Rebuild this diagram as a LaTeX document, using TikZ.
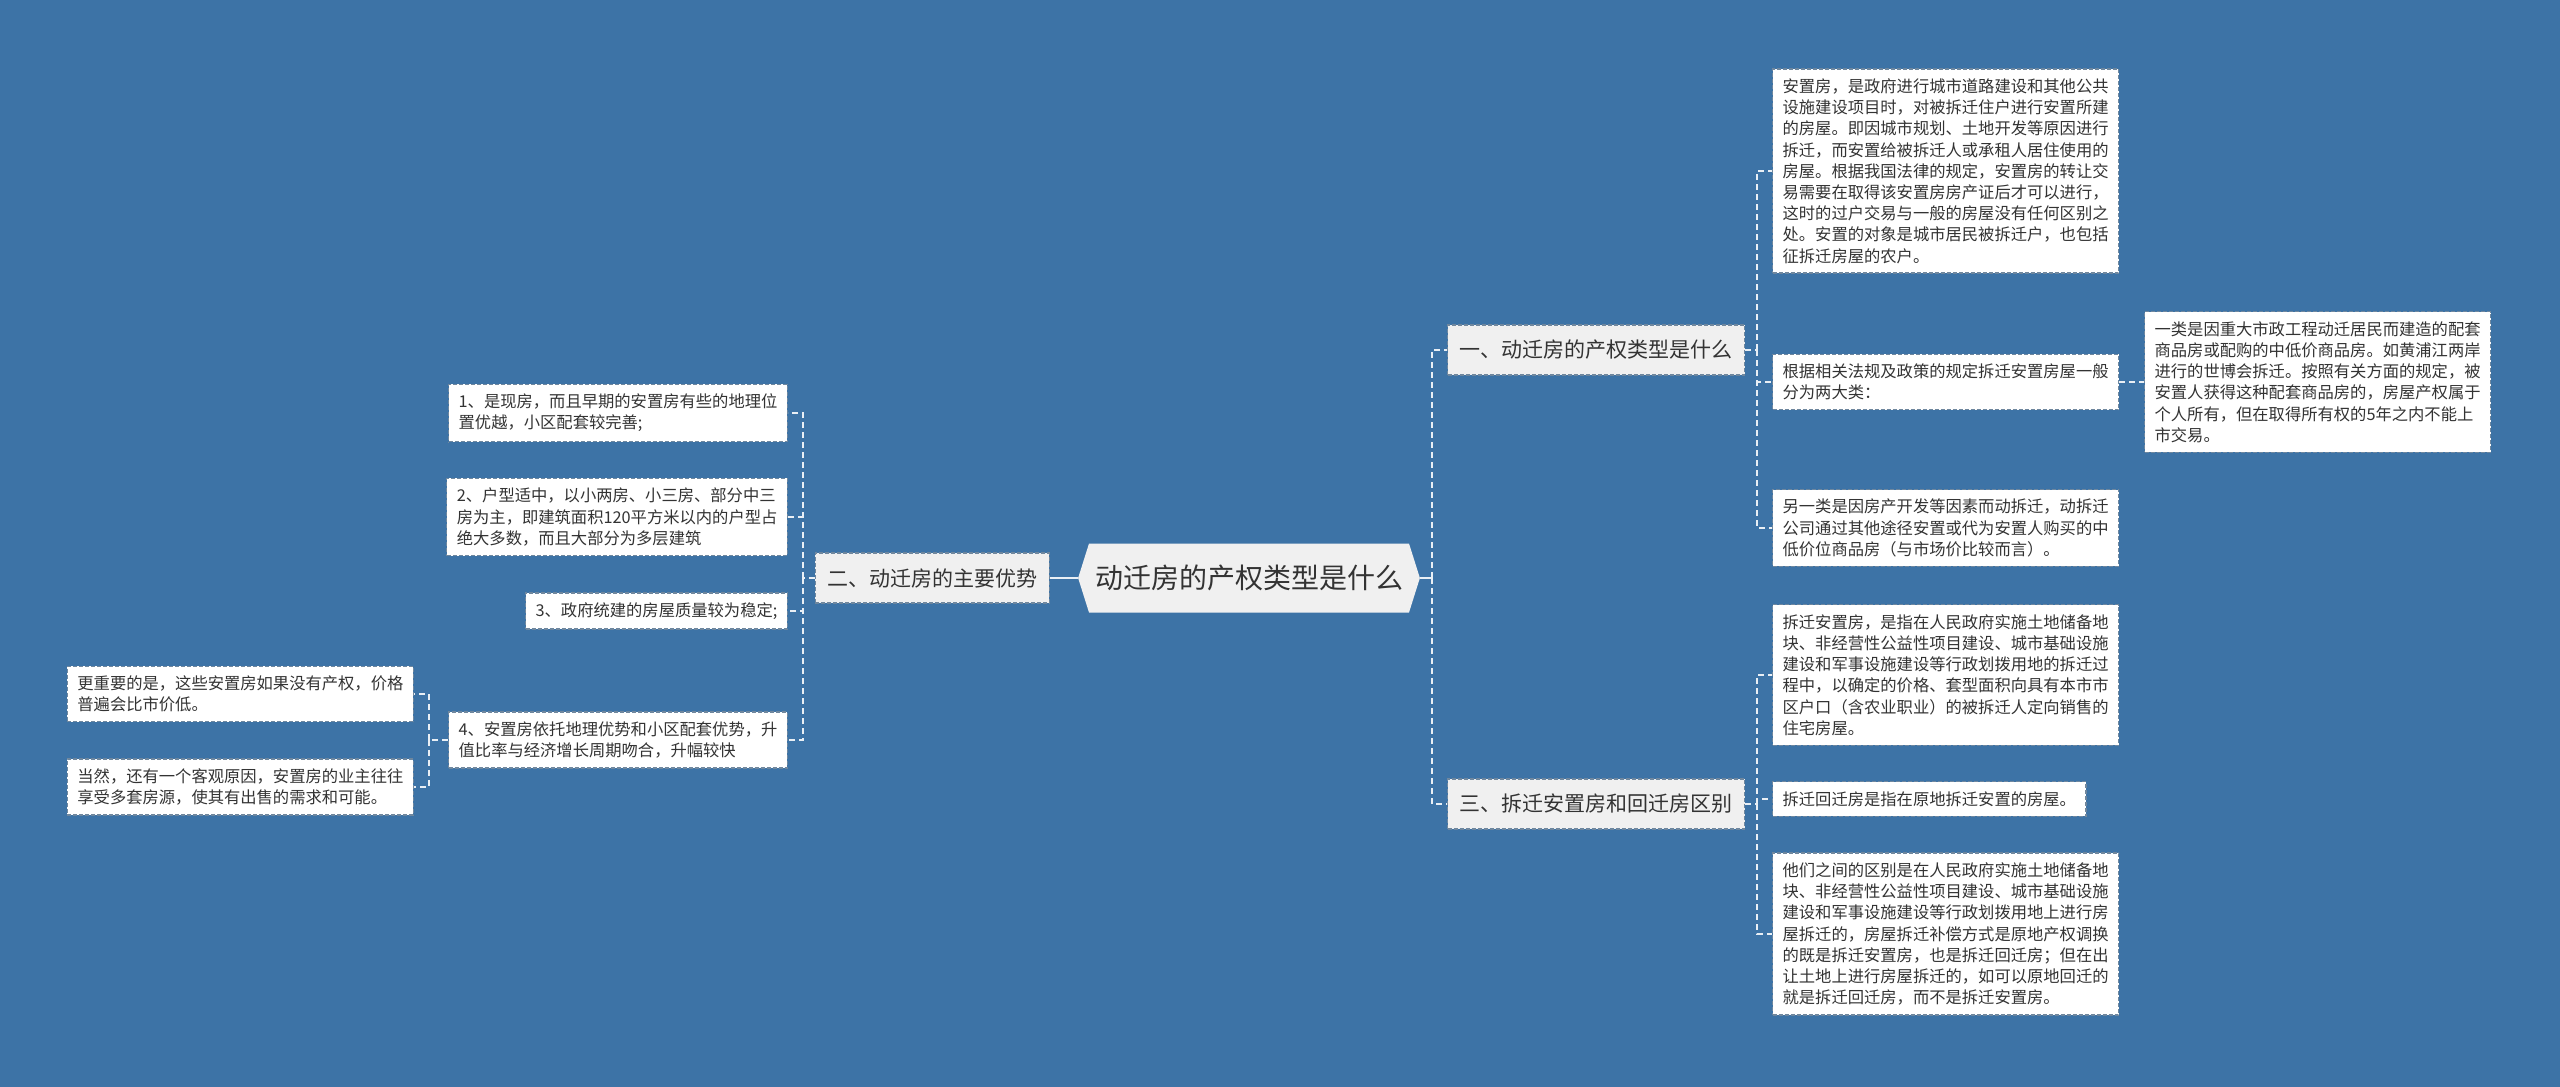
\documentclass[tikz,border=0pt]{standalone}
\usepackage{fontspec}
\newfontfamily\cjk{Noto Sans CJK SC}
\usepackage{tikz}
\usetikzlibrary{shapes.symbols}
\definecolor{mapblue}{HTML}{3D73A6}
\definecolor{boxline}{HTML}{6F879E}
\definecolor{topicgrey}{HTML}{F0F0F0}
\definecolor{ink}{HTML}{333333}
\definecolor{linkwhite}{HTML}{E9EFF5}
\tikzset{
    leaf/.style={draw=boxline, fill=white, line width=0.6pt, dash pattern=on 2pt off 1pt,
                 font=\cjk\fontsize{8.15}{10.6}\selectfont, text=ink, align=left,
                 inner xsep=5pt, inner ysep=4.8pt},
    topic/.style={leaf, fill=topicgrey, font=\cjk\fontsize{10.5}{12}\selectfont,
                  inner xsep=6pt, minimum height=25pt},
    hub/.style={signal, signal to=east and west, signal pointer angle=145, fill=topicgrey,
                font=\cjk\fontsize{14}{16}\selectfont, text=ink, inner xsep=3pt, minimum height=34.5pt},
    link/.style={linkwhite, line width=1pt, dash pattern=on 3pt off 2pt},
    trunk/.style={linkwhite, line width=1pt}
}

\begin{document}
\begin{tikzpicture}[x=0.5pt, y=-0.5pt]
    \fill[mapblue] (0,0) rectangle (2560,1087);
    \useasboundingbox (0,0) rectangle (2560,1087);
    % centre and main branches
    \node[hub] (root) at (1249,578) {动迁房的产权类型是什么};
    \node[topic, anchor=west] (k1) at (1447,350) {一、动迁房的产权类型是什么};
    \node[topic, anchor=east] (k2) at (1050,578) {二、动迁房的主要优势};
    \node[topic, anchor=west] (k3) at (1447,804) {三、拆迁安置房和回迁房区别};
    \coordinate (s1) at (1432,578);
    \coordinate (s2) at (1757,350);
    \coordinate (s3) at (803,578);
    \coordinate (s4) at (1757,804);
    % branch one
    \node[leaf, anchor=west] (a1) at (1772,171) {安置房，是政府进行城市道路建设和其他公共\\设施建设项目时，对被拆迁住户进行安置所建\\的房屋。即因城市规划、土地开发等原因进行\\拆迁，而安置给被拆迁人或承租人居住使用的\\房屋。根据我国法律的规定，安置房的转让交\\易需要在取得该安置房房产证后才可以进行，\\这时的过户交易与一般的房屋没有任何区别之\\处。安置的对象是城市居民被拆迁户，也包括\\征拆迁房屋的农户。};
    \node[leaf, anchor=west] (a2) at (1772,382) {根据相关法规及政策的规定拆迁安置房屋一般\\分为两大类：};
    \node[leaf, anchor=west] (a3) at (1772,528) {另一类是因房产开发等因素而动拆迁，动拆迁\\公司通过其他途径安置或代为安置人购买的中\\低价位商品房（与市场价比较而言）。};
    \node[leaf, anchor=west] (e1) at (2144,382) {一类是因重大市政工程动迁居民而建造的配套\\商品房或配购的中低价商品房。如黄浦江两岸\\进行的世博会拆迁。按照有关方面的规定，被\\安置人获得这种配套商品房的，房屋产权属于\\个人所有，但在取得所有权的5年之内不能上\\市交易。};
    % branch two
    \node[leaf, anchor=east] (b1) at (788,413) {1、是现房，而且早期的安置房有些的地理位\\置优越，小区配套较完善;};
    \node[leaf, anchor=east] (b2) at (788,517) {2、户型适中，以小两房、小三房、部分中三\\房为主，即建筑面积120平方米以内的户型占\\绝大多数，而且大部分为多层建筑};
    \node[leaf, anchor=east] (b3) at (788,611) {3、政府统建的房屋质量较为稳定;};
    \node[leaf, anchor=east] (b4) at (788,740) {4、安置房依托地理优势和小区配套优势，升\\值比率与经济增长周期吻合，升幅较快};
    \coordinate (s5) at (429,740);
    \node[leaf, anchor=east] (d1) at (414,694) {更重要的是，这些安置房如果没有产权，价格\\普遍会比市价低。};
    \node[leaf, anchor=east] (d2) at (414,787) {当然，还有一个客观原因，安置房的业主往往\\享受多套房源，使其有出售的需求和可能。};
    % branch three
    \node[leaf, anchor=west] (c1) at (1772,675) {拆迁安置房，是指在人民政府实施土地储备地\\块、非经营性公益性项目建设、城市基础设施\\建设和军事设施建设等行政划拨用地的拆迁过\\程中，以确定的价格、套型面积向具有本市市\\区户口（含农业职业）的被拆迁人定向销售的\\住宅房屋。};
    \node[leaf, anchor=west] (c2) at (1772,799) {拆迁回迁房是指在原地拆迁安置的房屋。};
    \node[leaf, anchor=west] (c3) at (1772,934) {他们之间的区别是在人民政府实施土地储备地\\块、非经营性公益性项目建设、城市基础设施\\建设和军事设施建设等行政划拨用地上进行房\\屋拆迁的，房屋拆迁补偿方式是原地产权调换\\的既是拆迁安置房，也是拆迁回迁房；但在出\\让土地上进行房屋拆迁的，如可以原地回迁的\\就是拆迁回迁房，而不是拆迁安置房。};
    % connectors
    \draw[trunk] (root.west) -- (k2.east);
    \draw[trunk] (root.east) -- (s1);
    \foreach \k in {k1,k3} \draw[link] (s1) |- (\k.west);
    \draw[link] (k1.east) -- (s2);
    \foreach \a in {a1,a2,a3} \draw[link] (s2) |- (\a.west);
    \draw[link] (a2.east) -- (e1.west);
    \draw[link] (k2.west) -- (s3);
    \foreach \b in {b1,b2,b3,b4} \draw[link] (s3) |- (\b.east);
    \draw[link] (b4.west) -- (s5);
    \foreach \d in {d1,d2} \draw[link] (s5) |- (\d.east);
    \draw[link] (k3.east) -- (s4);
    \foreach \c in {c1,c2,c3} \draw[link] (s4) |- (\c.west);
\end{tikzpicture}
\end{document}
